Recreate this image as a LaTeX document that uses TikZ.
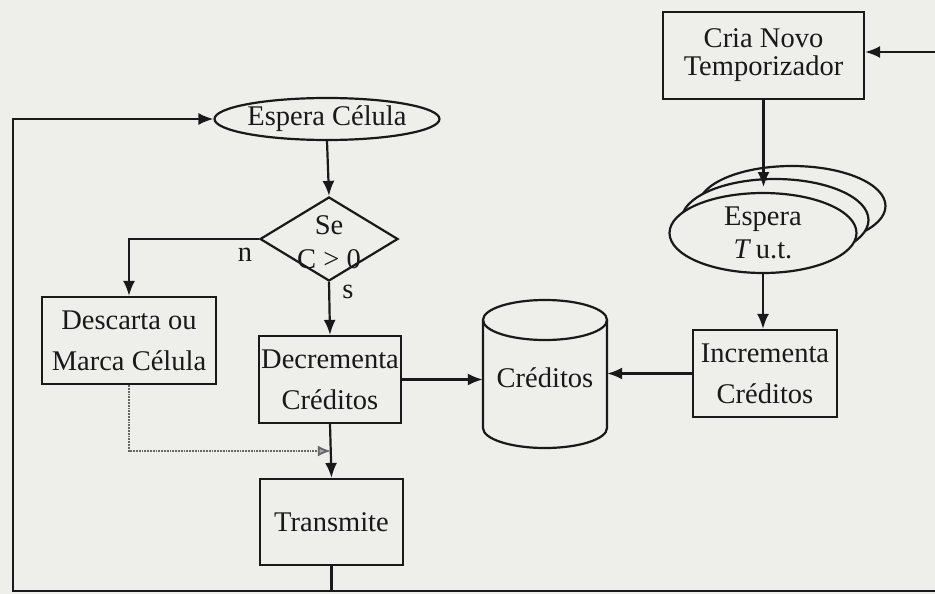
\documentclass[tikz,border=0pt]{standalone}
\usepackage{fontspec}
\setmainfont{Liberation Serif}
\usetikzlibrary{shapes.geometric,arrows.meta,calc}
\definecolor{bg}{RGB}{238,238,235}
\definecolor{ink}{RGB}{25,25,25}
\begin{document}
\begin{tikzpicture}[x=1pt,y=-1pt,
  every node/.style={font=\fontsize{28.5}{41}\selectfont, text=ink},
  box/.style={draw=ink, line width=2.2pt, rectangle, fill=bg, align=center, inner sep=0pt},
  ell/.style={draw=ink, line width=2.2pt, ellipse, fill=bg, align=center, inner sep=0pt},
  conn/.style={draw=ink, line width=2.2pt, line join=miter},
  arr/.style={conn, -{Latex[length=15pt,width=12pt]}},
  dotarr/.style={draw=gray!80!black, line width=1.8pt, densely dotted, -{Latex[length=13pt,width=11pt,fill=gray!70]}}
]
\fill[bg] (0,0) rectangle (935,594);
\useasboundingbox (0,0) rectangle (935,594);

% nodes
\node[box, minimum width=201pt, minimum height=87pt, font=\fontsize{28.5}{28}\selectfont] (cria) at (763.5,55.5) {Cria Novo\\Temporizador};
\node[ell, minimum width=187pt, minimum height=80pt] (e3) at (792,206) {};
\node[ell, minimum width=187pt, minimum height=82pt] (e2) at (775,220) {};
\node[ell, minimum width=187pt, minimum height=80pt, font=\fontsize{28.5}{33}\selectfont] (e1) at (763,233) {Espera\\\textit{T}\,u.t.};
\node[box, minimum width=144pt, minimum height=87pt] (incr) at (765,373.5) {Incrementa\\Créditos};

% cylinder
\node[minimum width=124pt, minimum height=148pt, inner sep=0pt] (cred) at (545,377) {};
\filldraw[conn, fill=bg] (483,320) -- (483,428) arc[start angle=180, end angle=360, x radius=62pt, y radius=20pt] -- (607,320);
\draw[conn] (545,320) ellipse [x radius=62pt, y radius=20pt];
\node (credtxt) at (545,378) {Créditos};

\node[box, minimum width=142pt, minimum height=87pt] (decr) at (330,379.5) {Decrementa\\Créditos};
\node[box, minimum width=143pt, minimum height=86pt] (trans) at (331.5,522) {Transmite};
\node[box, minimum width=174pt, minimum height=87pt] (desc) at (129,340.5) {Descarta ou\\Marca Célula};
\node[ell, minimum width=201pt, minimum height=42pt] (esp) at (327,119) {Espera Célula};
\node[diamond, draw=ink, line width=2.2pt, fill=bg, minimum width=138pt, minimum height=84pt, inner sep=0pt] (dia) at (329,239) {};
\node[font=\fontsize{28.5}{34}\selectfont, align=center, inner sep=0pt] (diatxt) at (329,242) {Se\\C > 0};

\node (nlab) at (245,255) {n};
\node (slab) at (348,292) {s};

% coordinates for free ends
\coordinate (bl) at (13,591);
\coordinate (br) at (935,591);
\coordinate (tl) at (13,119);
\coordinate (tr) at (935,52);
\coordinate (dj) at ($(decr.south)!0.5!(trans.north)$);

% connectors
\draw[arr] (tr) -- (tr -| cria.east);
\draw[arr] (cria.south) -- ++(0,87);
\draw[arr] (e1.south) -- (e1.south |- incr.north);
\draw[arr] (incr.west) -- (incr.west -| cred.east);
\draw[arr] (decr.east) -- (decr.east -| cred.west);
\draw[arr] (esp.south) -- (dia.north);
\draw[arr] (dia.west) -| (desc.north);
\draw[arr] (dia.south) -- (decr.north);
\draw[arr] (decr.south) -- (trans.north);
\draw[dotarr] (desc.south) |- (dj);
\draw[conn] (trans.south) -- (trans.south |- bl);
\draw[arr] (br) -- (bl) -- (tl) -- (esp.west);
\end{tikzpicture}
\end{document}
